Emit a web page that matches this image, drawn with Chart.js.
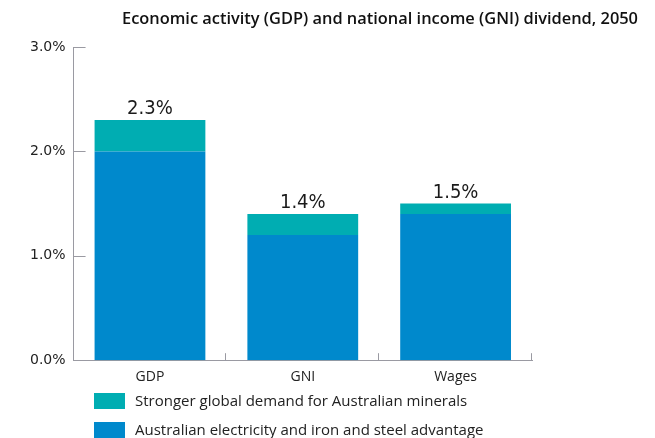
<!DOCTYPE html>
<html>
<head>
<meta charset="utf-8">
<script src="https://cdn.jsdelivr.net/npm/chart.js@4.4.1/dist/chart.umd.min.js"></script>
<style>
  html, body { margin: 0; padding: 0; background: #fff; }
  #wrap { position: relative; width: 655px; height: 438px; overflow: hidden; }
  #title {
    position: absolute; left: 0; top: 6px; width: 760px; text-align: center;
    font-family: "Open Sans", sans-serif; font-weight: 600; font-size: 16.4px; color: #111;
  }
  #legend { position: absolute; left: 94px; top: 393px; }
  .item { display: flex; align-items: center; height: 16px; margin-bottom: 13px;
    font-family: "Open Sans", sans-serif; font-size: 15px; color: #222; }
  .item span.txt { position: relative; top: -1px; }
  .swatch { width: 31px; height: 16px; margin-right: 10px; flex: none; }
  canvas { position: absolute; left: 0; top: 0; }
</style>
</head>
<body>
<div id="wrap">
  <canvas id="chart" width="655" height="438"></canvas>
  <div id="title">Economic activity (GDP) and national income (GNI) dividend, 2050</div>
  <div id="legend"></div>
</div>
<script>
const categories = ['GDP', 'GNI', 'Wages'];
const advantage = [2.0, 1.2, 1.4];     // electricity and iron/steel advantage
const demand = [0.3, 0.2, 0.1];        // stronger global demand
const yTicks = [0, 1, 2, 3];

const blue = '#0089cc';
const teal = '#00adb2';
const axisGrey = '#9a9aa2';

const datasets = [
  { label: 'Australian electricity and iron and steel advantage', data: advantage, backgroundColor: blue },
  { label: 'Stronger global demand for Australian minerals', data: demand, backgroundColor: teal },
];

// totals drawn above each stack, plus inward tick marks on both axes
const extras = {
  id: 'extras',
  afterDatasetsDraw(chart) {
    const ctx = chart.ctx;
    const x = chart.scales.x, y = chart.scales.y;
    ctx.save();
    ctx.strokeStyle = axisGrey;
    ctx.lineWidth = 1;
    yTicks.forEach(v => {
      const py = Math.round(y.getPixelForValue(v)) + 0.5;
      ctx.beginPath();
      ctx.moveTo(x.left, py);
      ctx.lineTo(x.left + 12, py);
      ctx.stroke();
    });
    const step = (x.right - x.left) / categories.length;
    for (let i = 1; i <= categories.length; i++) {
      const px = Math.round(x.left + step * i) - 0.5;
      ctx.beginPath();
      ctx.moveTo(px, y.bottom);
      ctx.lineTo(px, y.bottom - 7);
      ctx.stroke();
    }
    ctx.fillStyle = '#1a1a1a';
    ctx.font = '20px "DejaVu Sans Condensed", "DejaVu Sans", sans-serif';
    ctx.textAlign = 'center';
    ctx.textBaseline = 'bottom';
    categories.forEach((c, i) => {
      const total = advantage[i] + demand[i];
      ctx.fillText(total.toFixed(1) + '%', x.getPixelForValue(i), y.getPixelForValue(total) - 1);
    });
    ctx.restore();
  }
};

new Chart(document.getElementById('chart'), {
  type: 'bar',
  data: { labels: categories, datasets: datasets },
  options: {
    responsive: false,
    animation: false,
    layout: { padding: { top: 47, right: 123, bottom: 45, left: 22 } },
    plugins: { legend: { display: false }, tooltip: { enabled: false }, title: { display: false } },
    datasets: { bar: { categoryPercentage: 1, barPercentage: 0.725 } },
    scales: {
      x: {
        stacked: true,
        grid: { display: false, drawTicks: false },
        border: { display: true, color: axisGrey, width: 1 },
        ticks: { padding: 8, color: '#222', font: { family: '"Open Sans", sans-serif', size: 14 } }
      },
      y: {
        stacked: true,
        min: 0, max: 3,
        afterBuildTicks(axis) { axis.ticks = yTicks.map(v => ({ value: v })); },
        grid: { display: false, drawTicks: false },
        border: { display: true, color: axisGrey, width: 1 },
        ticks: {
          padding: 8, color: '#222',
          font: { family: '"DejaVu Sans", sans-serif', size: 14 },
          callback: v => v.toFixed(1) + '%'
        }
      }
    }
  },
  plugins: [extras]
});

// legend listed top-down: demand first, then advantage
const legend = document.getElementById('legend');
[datasets[1], datasets[0]].forEach(d => {
  const row = document.createElement('div');
  row.className = 'item';
  row.innerHTML = '<span class="swatch" style="background:' + d.backgroundColor + '"></span><span class="txt">' + d.label + '</span>';
  legend.appendChild(row);
});
</script>
</body>
</html>
